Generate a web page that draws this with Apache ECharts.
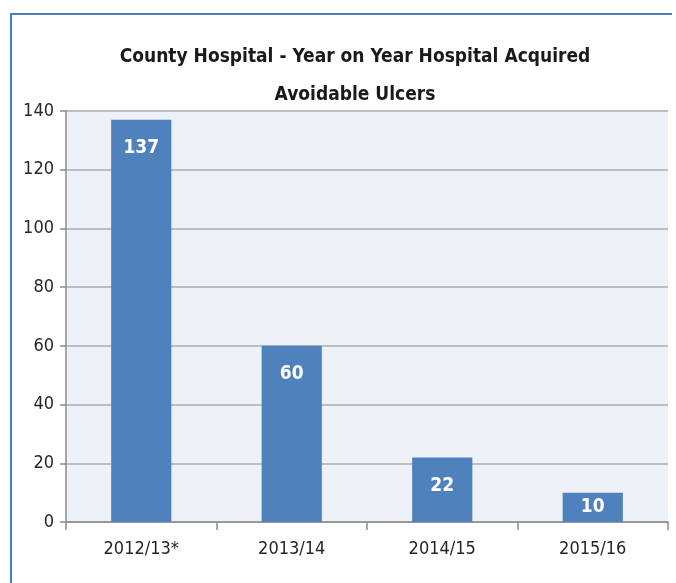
<!DOCTYPE html>
<html>
<head>
<meta charset="utf-8">
<script src="https://cdn.jsdelivr.net/npm/echarts@6/dist/echarts.min.js"></script>
<style>
html,body{margin:0;padding:0;background:#fff;}
#frame{position:absolute;left:10px;top:13px;width:662px;height:570px;border-left:2px solid #4A7EBB;border-top:2px solid #4A7EBB;box-sizing:border-box;}
#chart{position:absolute;left:0;top:0;width:676px;height:583px;}
</style>
</head>
<body>
<div id="frame"></div>
<div id="chart"></div>
<script>
const titleText = 'County Hospital - Year on Year Hospital Acquired\nAvoidable Ulcers';
const categories = ['2012/13*', '2013/14', '2014/15', '2015/16'];
const ulcers = [137, 60, 22, 10];
const yTicks = [0, 20, 40, 60, 80, 100, 120, 140];

const FONT = "'DejaVu Sans Condensed','Liberation Sans Narrow','Open Sans',sans-serif";
const chart = echarts.init(document.getElementById('chart'));
chart.setOption({
  animation: false,
  title: {
    text: titleText,
    left: 350, textAlign: 'center', top: 33,
    textStyle: { fontFamily: FONT, fontSize: 19, fontWeight: 'bold', color: '#1a1a1a', lineHeight: 38 }
  },
  grid: { left: 66, right: 8, top: 111, bottom: 61, backgroundColor: '#EDF1F8', show: true, borderWidth: 0 },
  xAxis: {
    type: 'category',
    data: categories,
    axisLine: { lineStyle: { color: '#8C8C8C', width: 1.5 } },
    axisTick: { show: true, length: 8, lineStyle: { color: '#8C8C8C', width: 1.5 } },
    axisLabel: { fontFamily: FONT, fontSize: 18, color: '#262626', margin: 18 }
  },
  yAxis: {
    type: 'value',
    min: yTicks[0], max: yTicks[yTicks.length - 1], interval: 20,
    axisLine: { show: true, lineStyle: { color: '#8C8C8C', width: 1.5 } },
    axisTick: { show: true, length: 6, lineStyle: { color: '#8C8C8C', width: 1.5 } },
    axisLabel: { fontFamily: FONT, fontSize: 18, color: '#262626', margin: 12 },
    splitLine: { lineStyle: { color: '#BEBEBE', width: 2 } }
  },
  series: [{
    type: 'bar',
    data: ulcers.map(v => ({ value: v, label: v < 15 ? { position: 'inside' } : {} })),
    barWidth: '40%',
    itemStyle: { color: '#4F81BD' },
    label: {
      show: true, position: 'insideTop', distance: 19,
      fontFamily: FONT, fontSize: 19, fontWeight: 'bold', color: '#ffffff'
    }
  }]
});
</script>
</body>
</html>
